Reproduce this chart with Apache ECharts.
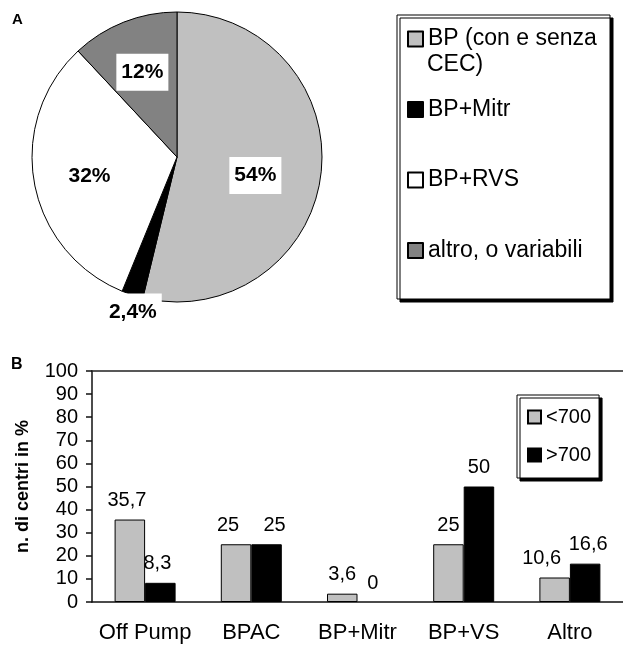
<!DOCTYPE html>
<html>
<head>
<meta charset="utf-8">
<style>
html,body{margin:0;padding:0;background:#fff;}
#chart{width:623px;height:646px;}
</style>
<script src="https://cdn.jsdelivr.net/npm/echarts@6/dist/echarts.min.js"></script>
</head>
<body>
<div id="chart"></div>
<script>
// ---- data ----
const pieNames = ['BP (con e senza CEC)', 'BP+Mitr', 'BP+RVS', 'altro, o variabili'];
const pieValues = [54, 2.4, 32, 12];
const pieLabels = ['54%', '2,4%', '32%', '12%'];
const pieColors = ['#c0c0c0', '#000000', '#ffffff', '#828282'];

const categories = ['Off Pump', 'BPAC', 'BP+Mitr', 'BP+VS', 'Altro'];
const barSeriesNames = ['<700', '>700'];
const under700 = [35.7, 25, 3.6, 25, 10.6];
const over700 = [8.3, 25, 0, 50, 16.6];
const under700Labels = ['35,7', '25', '3,6', '25', '10,6'];
const over700Labels = ['8,3', '25', '0', '50', '16,6'];
const barColors = ['#c0c0c0', '#000000'];

// label nudges (style only, in px)
const pieLabelNudge = [[-10, 8], [6, 0], [0, 3], [-2, -2]];
const underLabelNudge = [-3, -8, 0, 0, -13];
const overLabelNudge = [-3, 8, 0, 0, 3];

const FONT = 'Liberation Sans, Arial, sans-serif';
const chart = echarts.init(document.getElementById('chart'), null, {renderer: 'canvas'});

const pieData = pieNames.map((n, i) => ({
  name: n, value: pieValues[i],
  itemStyle: {color: pieColors[i], borderColor: '#000', borderWidth: 1}
}));

const labelStyle = {
  fontFamily: FONT, fontSize: 21, fontWeight: 'bold', color: '#000',
  backgroundColor: '#fff', padding: [8, 5]
};

function labelPie(radius, showIdx) {
  return {
    type: 'pie', center: [177, 157], radius: radius, startAngle: 90,
    silent: true, legendHoverLink: false, z: 5,
    data: pieNames.map((n, i) => ({
      name: n, value: pieValues[i],
      itemStyle: {color: 'rgba(0,0,0,0)', borderWidth: 0},
      label: {show: showIdx(i), position: 'inside',
        formatter: () => pieLabels[i], ...labelStyle}
    })),
    labelLine: {show: false},
    labelLayout: p => ({dx: pieLabelNudge[p.dataIndex][0], dy: pieLabelNudge[p.dataIndex][1]}),
    emphasis: {disabled: true}
  };
}

function barData(vals) {
  return vals.map(v => v === 0 ? {value: v, itemStyle: {borderWidth: 0}} : v);
}

const option = {
  animation: false,
  backgroundColor: '#fff',
  textStyle: {fontFamily: FONT},
  graphic: [
    {type: 'text', left: 12, top: 12, z: 10,
      style: {text: 'A', font: 'bold 15px ' + FONT, fill: '#000'}},
    {type: 'text', left: 11, top: 357, z: 10,
      style: {text: 'B', font: 'bold 16px ' + FONT, fill: '#000'}},
    {type: 'rect', z: 0,
      shape: {x: 397, y: 15, width: 213, height: 284},
      style: {fill: '#fff', stroke: '#000', lineWidth: 1,
        shadowColor: '#000', shadowOffsetX: 3, shadowOffsetY: 3, shadowBlur: 0}},
    {type: 'text', z: 10, x: 427, y: 65,
      style: {text: 'CEC)', font: '23px ' + FONT, fill: '#000',
        verticalAlign: 'middle', textVerticalAlign: 'middle'}}
  ],
  legend: [
    {
      data: pieNames, orient: 'vertical', left: 407, top: 27.5, padding: 0,
      itemWidth: 15, itemHeight: 15, itemGap: 47.5, icon: 'rect',
      selectedMode: false, z: 6,
      formatter: n => n === pieNames[0] ? 'BP (con e senza' : n,
      textStyle: {fontFamily: FONT, fontSize: 23, lineHeight: 23, color: '#000'}
    },
    {
      data: barSeriesNames, orient: 'vertical', left: 517, top: 395,
      padding: [12, 8, 13, 10],
      itemWidth: 13, itemHeight: 13, itemGap: 18, icon: 'rect',
      selectedMode: false,
      backgroundColor: '#fff', borderColor: '#000', borderWidth: 1,
      shadowColor: '#000', shadowOffsetX: 3, shadowOffsetY: 3, shadowBlur: 0,
      textStyle: {fontFamily: FONT, fontSize: 20, lineHeight: 20, color: '#000'}
    }
  ],
  grid: {left: 92, right: 0, top: 371, bottom: 44, containLabel: false},
  xAxis: [
    {
      type: 'category', data: categories, position: 'bottom',
      axisLine: {show: true, lineStyle: {color: '#111', width: 1.5}},
      axisTick: {show: false},
      axisLabel: {fontFamily: FONT, fontSize: 22, color: '#000', margin: 20, interval: 0}
    },
    {
      type: 'category', data: categories, position: 'top',
      axisLine: {show: true, lineStyle: {color: '#222', width: 1.5}},
      axisTick: {show: false}, axisLabel: {show: false}
    }
  ],
  yAxis: {
    type: 'value', min: 0, max: 100, interval: 10,
    axisLine: {show: true, lineStyle: {color: '#111', width: 1.5}},
    axisTick: {show: true, length: 6, lineStyle: {color: '#111', width: 1.5}},
    axisLabel: {fontFamily: FONT, fontSize: 20, color: '#000', margin: 14},
    splitLine: {show: false},
    name: 'n. di centri in %', nameLocation: 'middle', nameGap: 60,
    nameTextStyle: {fontFamily: FONT, fontSize: 18, fontWeight: 'bold', color: '#000'}
  },
  series: [
    {
      type: 'pie', center: [177, 157], radius: [0, 145], startAngle: 90,
      clockwise: true, data: pieData, label: {show: false}, labelLine: {show: false},
      emphasis: {disabled: true}, silent: true
    },
    labelPie([0, 172], i => i !== 1),
    labelPie([0, 320], i => i === 1),
    {
      type: 'bar', name: barSeriesNames[0], data: barData(under700), barWidth: 30.5, barGap: '0%',
      itemStyle: {color: barColors[0], borderColor: '#000', borderWidth: 1},
      label: {show: true, position: 'top', distance: 9, fontFamily: FONT, fontSize: 20,
        color: '#000', formatter: p => under700Labels[p.dataIndex]},
      labelLayout: p => ({dx: underLabelNudge[p.dataIndex]})
    },
    {
      type: 'bar', name: barSeriesNames[1], data: barData(over700), barWidth: 30.5, barGap: '0%',
      itemStyle: {color: barColors[1], borderColor: '#000', borderWidth: 1},
      label: {show: true, position: 'top', distance: 9, fontFamily: FONT, fontSize: 20,
        color: '#000', formatter: p => over700Labels[p.dataIndex]},
      labelLayout: p => ({dx: overLabelNudge[p.dataIndex]})
    }
  ]
};
chart.setOption(option);
</script>
</body>
</html>
